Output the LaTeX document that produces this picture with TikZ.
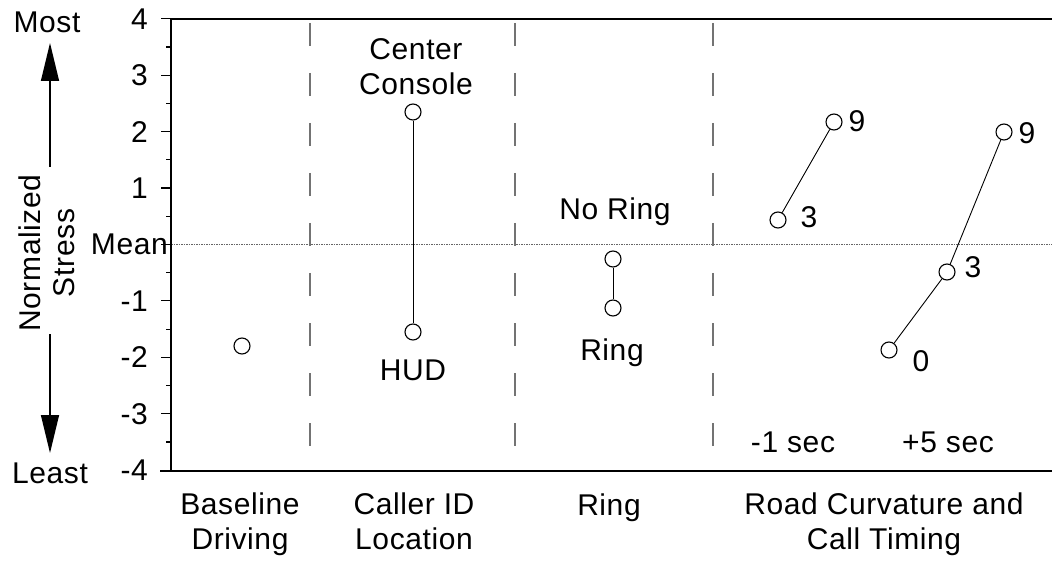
\documentclass[tikz,border=0pt]{standalone}
\usepackage{fontspec}
\setmainfont{Liberation Sans}[LetterSpace=2]
\usetikzlibrary{arrows.meta}
\begin{document}
\begin{tikzpicture}[x=1pt,y=-1pt,
  lbl/.style={font=\fontsize{30}{35}\selectfont, inner sep=0pt, align=center, anchor=base},
  tlbl/.style={font=\fontsize{30}{35}\selectfont, inner sep=0pt, anchor=base east},
  pt/.style={circle, draw, line width=1.1pt, minimum size=16pt, inner sep=0pt, fill=white},
  conn/.style={line width=0.9pt},
  sepline/.style={draw=black!55, line width=1.6pt, dash pattern=on 23pt off 27pt},
  meanline/.style={draw=black!60, line width=0.9pt, dash pattern=on 1.5pt off 1pt},
  axisline/.style={line width=1.2pt},
  bigarrow/.style={line width=1.4pt, -{Triangle[length=38pt,width=18pt]}},
]
\useasboundingbox (0,0) rectangle (1052,561);

% mean line
\coordinate (mL) at (171,244);
\coordinate (mR) at (1052,244);
\draw[meanline] (mL) -- (mR);

% separators
\foreach \x/\n in {310/s1,515/s2,713/s3}{
  \coordinate (\n t) at (\x,23);
  \coordinate (\n b) at (\x,456);
  \draw[sepline] (\n t) -- (\n b);
}

% axes
\coordinate (aT) at (171,19);
\coordinate (aB) at (171,471);
\coordinate (tR) at (1052,19);
\coordinate (bL) at (160,471);
\coordinate (bR) at (1052,471);
\draw[axisline] (aT) -- (aB);
\draw[axisline] (aT) -- (tR);
\draw[axisline] (bL) -- (bR);
\foreach \v in {-4,...,4}{
  \draw[axisline] (161,{244.5-56.4*\v}) -- (171,{244.5-56.4*\v});
}
\foreach \v in {-3.5,-2.5,-1.5,-0.5,0.5,1.5,2.5,3.5}{
  \draw[axisline] (166,{244.5-56.4*\v}) -- (171,{244.5-56.4*\v});
}
\foreach \v/\n in {4/t4,3/t3,2/t2,1/t1,-1/tm1,-2/tm2,-3/tm3,-4/tm4}{
  \node[tlbl] (\n) at (148,{244.5-56.4*\v+10.5}) {\v};
}
\node[tlbl] (mean) at (168,255) {Mean};

% left side
\node[lbl] (most) at (47,33) {Most};
\node[lbl] (least) at (50,483) {Least};
\node[font=\fontsize{30}{34}\selectfont, inner sep=0pt, align=center, rotate=90] (ns) at (47,253) {Normalized\\Stress};
\coordinate (upS) at (50,167);
\coordinate (upE) at (50,43);
\coordinate (dnS) at (50,334);
\coordinate (dnE) at (50,453);
\draw[bigarrow] (upS) -- (upE);
\draw[bigarrow] (dnS) -- (dnE);

% data points
\node[pt] (base) at (242,346) {};
\node[pt] (cc) at (413,112) {};
\node[pt] (hud) at (413,332) {};
\node[pt] (nr) at (613,259) {};
\node[pt] (rg) at (613,308) {};
\node[pt] (a3) at (778,220) {};
\node[pt] (a9) at (834,122) {};
\node[pt] (b0) at (889,350) {};
\node[pt] (b3) at (947,272) {};
\node[pt] (b9) at (1004,132) {};

\draw[conn] (cc) -- (hud);
\draw[conn] (nr) -- (rg);
\draw[conn] (a3) -- (a9);
\draw[conn] (b0) -- (b3);
\draw[conn] (b3) -- (b9);

% point labels
\node[lbl] (lcc) at (416,95) {Center\\Console};
\node[lbl] (lhud) at (413,380) {HUD};
\node[lbl] (lnr) at (615,220) {No Ring};
\node[lbl] (lrg) at (612,360) {Ring};
\node[lbl] (la3) at (809,228) {3};
\node[lbl] (la9) at (857,132) {9};
\node[lbl] (lb0) at (921,371) {0};
\node[lbl] (lb3) at (973,278) {3};
\node[lbl] (lb9) at (1027,144) {9};
\node[lbl] (m1) at (793,452) {-1 sec};
\node[lbl] (p5) at (948,452) {+5 sec};

% category labels
\node[lbl] (c1) at (240,549) {Baseline\\Driving};
\node[lbl] (c2) at (414,549) {Caller ID\\Location};
\node[lbl] (c3) at (609,515) {Ring};
\node[lbl] (c4) at (884,549) {Road Curvature and\\Call Timing};
\end{tikzpicture}
\end{document}
